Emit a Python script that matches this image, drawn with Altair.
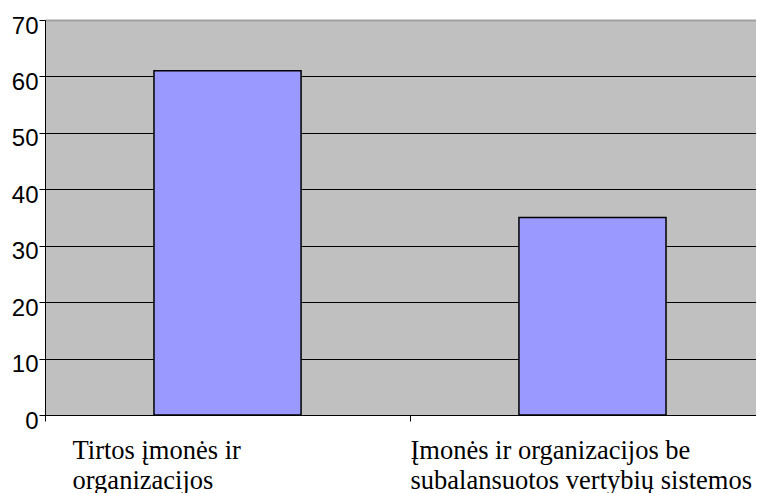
import altair as alt
import pandas as pd

categories = ["Tirtos įmonės ir\norganizacijos",
              "Įmonės ir organizacijos be\nsubalansuotos vertybių sistemos"]
values = [61, 35]
y_ticks = [0, 10, 20, 30, 40, 50, 60, 70]

df = pd.DataFrame({"category": categories, "value": values})

chart = alt.Chart(df).mark_bar(
    color="#9999ff", stroke="black", strokeWidth=1.5
).encode(
    x=alt.X(
        "category:N", sort=categories, title=None,
        scale=alt.Scale(range=[0, 730], paddingInner=0.597, paddingOuter=0.2986),
        axis=alt.Axis(
            labelAngle=0, labelAlign="left", labelBaseline="top",
            labelFont="Liberation Serif, Times New Roman, serif", labelFontSize=26.5, labelColor="black",
            labelLineHeight=30, labelPadding=16.2, labelLimit=600,
            labelExpr="split(datum.label, '\\n')",
            labelOffset={"condition": {"test": "indexof(datum.value, 'Tirtos') == 0", "value": 27}, "value": 0},
            tickSize=6, tickColor="black", tickOffset=-182.5,
            domainColor="black", grid=False,
        ),
    ),
    y=alt.Y(
        "value:Q", title=None,
        scale=alt.Scale(domain=[0, 70], nice=False),
        axis=alt.Axis(
            values=y_ticks, format="d",
            labelFont="Liberation Sans, Arial, sans-serif", labelFontSize=24, labelColor="black",
            labelPadding=1, labelOffset=6,
            tickSize=6, tickColor="black", domainColor="black",
            grid=True,
            gridColor={"condition": {"test": "datum.value == 70", "value": "#a0a0a0"}, "value": "black"},
            gridWidth={"condition": {"test": "datum.value == 70", "value": 2}, "value": 1},
        ),
    ),
).properties(
    width=711, height=395,
    padding={"left": 37, "top": 12, "right": 0, "bottom": 78},
    autosize=alt.AutoSizeParams(type="none"),
    background="white",
).configure_view(
    fill="#c0c0c0", strokeWidth=0
)

chart.save("out.html", embed_options={"renderer": "svg", "actions": False})
